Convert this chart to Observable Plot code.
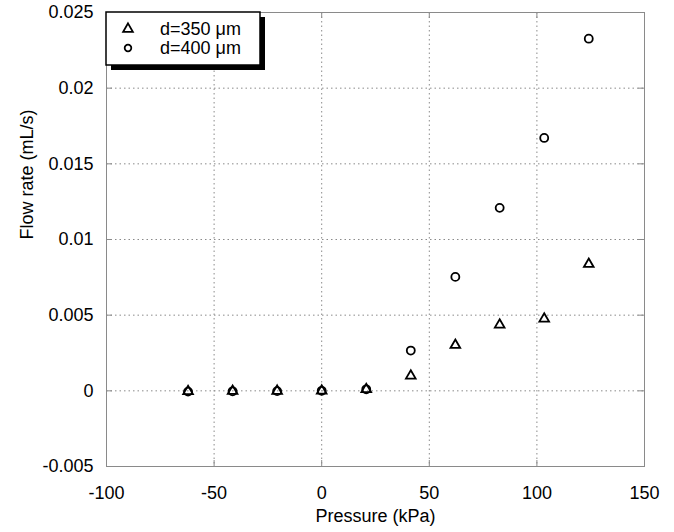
<!DOCTYPE html>
<html>
<head>
<meta charset="utf-8">
<script src="https://cdn.jsdelivr.net/npm/d3@7"></script>
<script src="https://cdn.jsdelivr.net/npm/@observablehq/plot@0.6"></script>
<style>
  html, body { margin: 0; padding: 0; background: #fff; }
  #chart { width: 674px; height: 532px; }
</style>
</head>
<body>
<div id="chart"></div>
<script>
// Pressure (kPa)
const pressure = [-62.1, -41.4, -20.7, 0, 20.7, 41.4, 62.1, 82.7, 103.4, 124.1];
// Flow rate (mL/s), d = 350 µm (triangles)
const flow350 = [-0.00003, -0.00002, -0.00001, 0, 0.0001, 0.00099, 0.00302, 0.00436, 0.00476, 0.00837];
// Flow rate (mL/s), d = 400 µm (circles)
const flow400 = [-0.00005, -0.00003, -0.00002, 0, 0.0001, 0.00266, 0.00753, 0.01209, 0.01671, 0.02327];

const seriesNames = ["d=350 \u03bcm", "d=400 \u03bcm"];
const xTicks = [-100, -50, 0, 50, 100, 150];
const xTickLabels = ["-100", "-50", "0", "50", "100", "150"];
const yTicks = [-0.005, 0, 0.005, 0.01, 0.015, 0.02, 0.025];
const yTickLabels = ["-0.005", "0", "0.005", "0.01", "0.015", "0.02", "0.025"];
const xLabel = "Pressure (kPa)";
const yLabel = "Flow rate (mL/s)";

const rows350 = pressure.map((p, i) => ({p, q: flow350[i]}));
const rows400 = pressure.map((p, i) => ({p, q: flow400[i]}));

const W = 674, H = 532;
const mL = 106, mR = 30, mT = 12, mB = 66;
const fw = W - mL - mR, fh = H - mT - mB;
const FONT = "'Liberation Sans', Arial, Helvetica, sans-serif";
const FS = 18;
const gridStyle = {stroke: "#8a8a8a", strokeOpacity: 1, strokeWidth: 1, strokeDasharray: "1.5,3"};
const tickColor = "#8a8a8a";

const plot = Plot.plot({
  width: W, height: H,
  marginLeft: mL, marginRight: mR, marginTop: mT, marginBottom: mB,
  style: {fontFamily: FONT, fontSize: FS + "px", color: "#000", background: "#fff"},
  x: {domain: [-100, 150]},
  y: {domain: [-0.005, 0.025]},
  marks: [
    Plot.gridX(xTicks, gridStyle),
    Plot.gridY(yTicks, gridStyle),
    // inward tick marks on all four sides
    Plot.ruleX(xTicks, {stroke: tickColor, insetTop: fh - 6}),
    Plot.ruleX(xTicks, {stroke: tickColor, insetBottom: fh - 6}),
    Plot.ruleY(yTicks, {stroke: tickColor, insetRight: fw - 6}),
    Plot.ruleY(yTicks, {stroke: tickColor, insetLeft: fw - 6}),
    Plot.frame({stroke: "#8a8a8a", strokeWidth: 1}),
    Plot.axisX(xTicks, {tickSize: 0, tickPadding: 19.5, fontSize: FS, label: null,
      tickFormat: (d) => xTickLabels[xTicks.indexOf(d)]}),
    Plot.axisY(yTicks, {tickSize: 0, tickPadding: 13, fontSize: FS, label: null,
      tickFormat: (d) => yTickLabels[yTicks.indexOf(d)]}),
    Plot.text([xLabel], {frameAnchor: "bottom", text: (d) => d, dy: 50.2, lineAnchor: "middle",
      fontSize: FS, fill: "#000"}),
    Plot.text([yLabel], {frameAnchor: "left", text: (d) => d, rotate: -90, dx: -78.8, lineAnchor: "middle",
      fontSize: FS, fill: "#000"}),
    Plot.dot(rows400, {x: "p", y: "q", symbol: "circle", r: 4, fill: "none", stroke: "#000", strokeWidth: 1.8}),
    Plot.dot(rows350, {x: "p", y: "q", symbol: "triangle", r: 3.6, fill: "none", stroke: "#000", strokeWidth: 1.8})
  ]
});

document.getElementById("chart").appendChild(plot);

// Legend box (top-left corner of the frame), drawn in the same SVG
const svg = d3.select(plot);
const x0 = plot.scale("x").apply(-100);
const y0 = plot.scale("y").apply(0.025);
const bw = 154, bh = 53, sh = 5;
const lg = svg.append("g");
lg.append("rect").attr("x", x0 + sh).attr("y", y0 + sh).attr("width", bw).attr("height", bh).attr("fill", "#000");
lg.append("rect").attr("x", x0).attr("y", y0).attr("width", bw).attr("height", bh)
  .attr("fill", "#fff").attr("stroke", "#000").attr("stroke-width", 1.5);
const symbols = [d3.symbolTriangle, d3.symbolCircle];
const sizes = [3.6 * 3.6 * Math.PI, 3.3 * 3.3 * Math.PI];
seriesNames.forEach((name, i) => {
  const cy = y0 + 17 + i * 19;
  lg.append("path").attr("d", d3.symbol(symbols[i], sizes[i])())
    .attr("transform", `translate(${x0 + 22},${cy})`)
    .attr("fill", "none").attr("stroke", "#000").attr("stroke-width", 1.8);
  lg.append("text").attr("x", x0 + 54).attr("y", cy + 5.5).attr("text-anchor", "start")
    .attr("font-family", FONT).attr("font-size", FS).attr("fill", "#000").text(name);
});
</script>
</body>
</html>
